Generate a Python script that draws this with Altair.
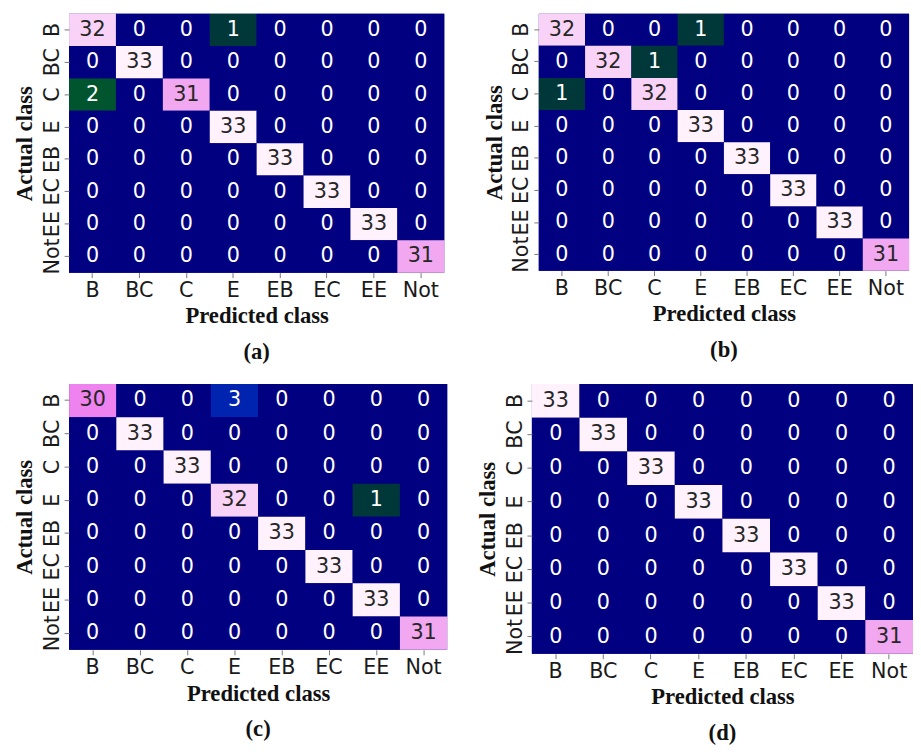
import altair as alt
import pandas as pd

classes = ["B", "BC", "C", "E", "EB", "EC", "EE", "Not"]

matrix_a = [
    [32, 0, 0, 1, 0, 0, 0, 0],
    [0, 33, 0, 0, 0, 0, 0, 0],
    [2, 0, 31, 0, 0, 0, 0, 0],
    [0, 0, 0, 33, 0, 0, 0, 0],
    [0, 0, 0, 0, 33, 0, 0, 0],
    [0, 0, 0, 0, 0, 33, 0, 0],
    [0, 0, 0, 0, 0, 0, 33, 0],
    [0, 0, 0, 0, 0, 0, 0, 31],
]
matrix_b = [
    [32, 0, 0, 1, 0, 0, 0, 0],
    [0, 32, 1, 0, 0, 0, 0, 0],
    [1, 0, 32, 0, 0, 0, 0, 0],
    [0, 0, 0, 33, 0, 0, 0, 0],
    [0, 0, 0, 0, 33, 0, 0, 0],
    [0, 0, 0, 0, 0, 33, 0, 0],
    [0, 0, 0, 0, 0, 0, 33, 0],
    [0, 0, 0, 0, 0, 0, 0, 31],
]
matrix_c = [
    [30, 0, 0, 3, 0, 0, 0, 0],
    [0, 33, 0, 0, 0, 0, 0, 0],
    [0, 0, 33, 0, 0, 0, 0, 0],
    [0, 0, 0, 32, 0, 0, 1, 0],
    [0, 0, 0, 0, 33, 0, 0, 0],
    [0, 0, 0, 0, 0, 33, 0, 0],
    [0, 0, 0, 0, 0, 0, 33, 0],
    [0, 0, 0, 0, 0, 0, 0, 31],
]
matrix_d = [
    [33, 0, 0, 0, 0, 0, 0, 0],
    [0, 33, 0, 0, 0, 0, 0, 0],
    [0, 0, 33, 0, 0, 0, 0, 0],
    [0, 0, 0, 33, 0, 0, 0, 0],
    [0, 0, 0, 0, 33, 0, 0, 0],
    [0, 0, 0, 0, 0, 33, 0, 0],
    [0, 0, 0, 0, 0, 0, 33, 0],
    [0, 0, 0, 0, 0, 0, 0, 31],
]
captions = ["(a)", "(b)", "(c)", "(d)"]

color_domain = [0, 1, 2, 3, 30, 31, 32, 33]
color_range = ["#000080", "#00383a", "#00552f", "#0024b0",
               "#ee82ee", "#f2a8f0", "#f9d3f7", "#fff2fd"]

SANS = "DejaVu Sans"
SERIF = "Liberation Serif"


def panel(matrix, caption, w, h):
    rows = []
    for i, actual in enumerate(classes):
        for j, pred in enumerate(classes):
            rows.append({"Actual": actual, "Predicted": pred, "v": matrix[i][j]})
    df = pd.DataFrame(rows)
    base = alt.Chart(df).encode(
        x=alt.X("Predicted:N", sort=classes, title="Predicted class",
                scale=alt.Scale(paddingInner=0, paddingOuter=0),
                axis=alt.Axis(labelAngle=0, labelFont=SANS, labelFontSize=21,
                              labelColor="#1a1a1a", tickSize=5, tickColor="#777",
                              domain=False, labelPadding=2,
                              titleFont=SERIF, titleFontSize=23,
                              titleFontWeight="bold", titleColor="#111",
                              titlePadding=5)),
        y=alt.Y("Actual:N", sort=classes, title="Actual class",
                scale=alt.Scale(paddingInner=0, paddingOuter=0),
                axis=alt.Axis(labelAngle=270, labelAlign="center",
                              labelBaseline="bottom", labelFont=SANS,
                              labelFontSize=21, labelColor="#1a1a1a",
                              tickSize=5, tickColor="#777", domain=False,
                              labelPadding=2, titleFont=SERIF,
                              titleFontSize=23, titleFontWeight="bold",
                              titleColor="#111", titlePadding=5)),
    )
    rect = base.mark_rect().encode(
        color=alt.Color("v:O", scale=alt.Scale(domain=color_domain, range=color_range),
                        legend=None)
    )
    text = base.mark_text(font=SANS, fontSize=21, baseline="middle").encode(
        text="v:Q",
        color=alt.condition(alt.datum.v > 15, alt.value("#262626"), alt.value("white")),
    )
    return alt.layer(rect, text).properties(
        width=w, height=h,
        title=alt.TitleParams(caption, orient="bottom", font=SERIF, fontSize=23,
                              fontWeight="bold", color="#111", offset=14),
    )


top = alt.hconcat(panel(matrix_a, captions[0], 381, 263),
                  panel(matrix_b, captions[1], 376, 261), spacing=40)
bottom = alt.hconcat(panel(matrix_c, captions[2], 384, 270),
                     panel(matrix_d, captions[3], 387, 274), spacing=30)
chart = alt.vconcat(top, bottom, spacing=20).properties(
    padding={"left": 6, "top": 0, "right": 0, "bottom": 0}
).configure_view(stroke=None, fill="#000080")

chart.save("out.html", embed_options={"renderer": "svg", "actions": False})
